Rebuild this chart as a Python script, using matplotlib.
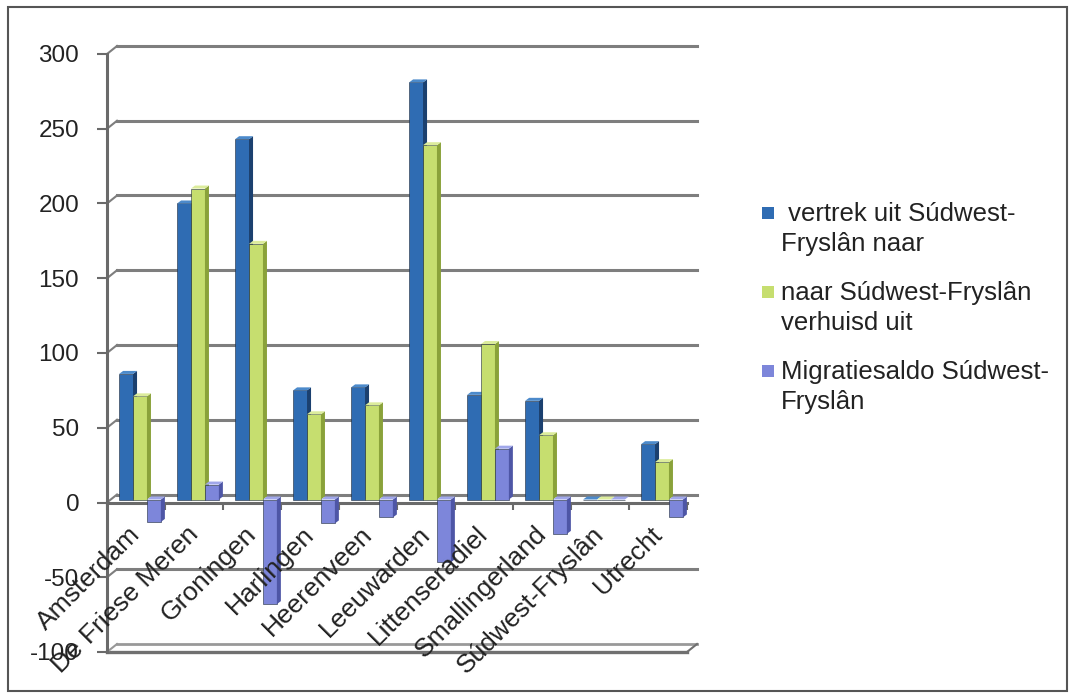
import numpy as np
import matplotlib
matplotlib.use("Agg")
import matplotlib.pyplot as plt
from matplotlib.patches import Polygon, Rectangle

plt.rcParams['font.family'] = ['Liberation Sans', 'DejaVu Sans']

gemeenten = ["Amsterdam", "De Friese Meren", "Groningen", "Harlingen", "Heerenveen",
             "Leeuwarden", "Littenseradiel", "Smallingerland", "Súdwest-Fryslân", "Utrecht"]
vertrek = [84, 198, 241, 73, 75, 279, 70, 66, 0, 37]
aankomst = [69, 208, 171, 57, 63, 237, 104, 43, 0, 25]
saldo = [-15, 10, -70, -16, -12, -42, 34, -23, 0, -12]

reeksen = [" vertrek uit Súdwest-\nFryslân naar",
           "naar Súdwest-Fryslân\nverhuisd uit",
           "Migratiesaldo Súdwest-\nFryslân"]
yticks = [-100, -50, 0, 50, 100, 150, 200, 250, 300]

# front / side / top colours per series
kleuren = [("#2f6cb3", "#1b406f", "#4c8acb"),
           ("#c6de6f", "#8aa23a", "#dcec9c"),
           ("#7d86da", "#4e56a6", "#a0a7ea")]

W, H = 1069, 693
fig = plt.figure(figsize=(W / 100, H / 100), dpi=100)
ax = fig.add_axes([107 / W, 41 / H, 580 / W, 598 / H])
ax.set_xlim(-0.5, len(gemeenten) - 0.5)
ax.set_ylim(-100, 300)

# pixels per data unit, used for the pseudo 3d depth
p0 = ax.transData.transform((0, 0))
p1 = ax.transData.transform((1, 1))
sx, sy = p1[0] - p0[0], p1[1] - p0[1]
wx, wy = 10 / sx, 8 / sy      # depth of the walls
mx, my = 4 / sx, 3 / sy       # bars sit halfway
bx, by = 4 / sx, 3 / sy       # depth of a bar

grid_c = "#7e7e7e"
x0, x1 = ax.get_xlim()
for y in yticks:
    if y == -100:
        continue
    ax.plot([x0 + wx, x1 + wx], [y + wy, y + wy], color=grid_c, lw=2.2, zorder=1, clip_on=False)
    ax.plot([x0, x0 + wx], [y, y + wy], color=grid_c, lw=1.5, zorder=1, clip_on=False)

# floor
ax.plot([x0, x1], [-100, -100], color="#707070", lw=2.4, zorder=1, clip_on=False)
ax.plot([x0 + wx, x1 + wx], [-100 + wy, -100 + wy], color="#999999", lw=2, zorder=1, clip_on=False)
ax.plot([x0, x0 + wx], [-100, -100 + wy], color="#999999", lw=1.5, zorder=1, clip_on=False)
ax.plot([x1, x1 + wx], [-100, -100 + wy], color="#707070", lw=1.5, zorder=1, clip_on=False)

bw = 0.24
x = np.arange(len(gemeenten))
for i in range(len(gemeenten)):
    for k, serie in enumerate([vertrek, aankomst, saldo]):
        v = serie[i]
        front, side, top = kleuren[k]
        xl = x[i] + (k - 1) * bw - bw / 2 + mx
        xr = xl + bw
        z = 3 + i * 0.1 + k * 0.01
        ax.bar(xl, v, width=bw, bottom=my, align='edge', color=front,
               edgecolor="#1e2a3a", linewidth=0.4, zorder=z)
        lo, hi = min(0, v) + my, max(0, v) + my
        ax.add_patch(Polygon([(xr, lo), (xr + bx, lo + by), (xr + bx, hi + by), (xr, hi)],
                             closed=True, facecolor=side, edgecolor="none", zorder=z))
        ax.add_patch(Polygon([(xl, hi), (xl + bx, hi + by), (xr + bx, hi + by), (xr, hi)],
                             closed=True, facecolor=top, edgecolor="none", zorder=z))

for s in ["top", "right"]:
    ax.spines[s].set_visible(False)
ax.spines["left"].set_color("#6a6a6a")
ax.spines["left"].set_linewidth(2.2)
ax.spines["bottom"].set_position(("data", 0))
ax.spines["bottom"].set_color("#6a6a6a")
ax.spines["bottom"].set_linewidth(2.2)
ax.spines["bottom"].set_zorder(2)

ax.set_yticks(yticks)
ax.set_yticklabels([str(t) for t in yticks], fontsize=17.5, color="#222222")
ax.tick_params(axis="y", length=7, width=1.5, color="#6a6a6a", pad=13)
ax.set_xticks(np.arange(len(gemeenten) + 1) - 0.5)
ax.set_xticklabels([])
ax.tick_params(axis="x", length=5, width=1.5, color="#6a6a6a", direction="out")

for i, naam in enumerate(gemeenten):
    ax.text(x[i] - 0.14, -13, naam, rotation=45, ha="right", va="top",
            rotation_mode="anchor", fontsize=19, color="#222222", zorder=10)

# legend
ly = [213, 292, 371]
for k in range(3):
    fig.add_artist(Rectangle((762 / W, 1 - (ly[k] + 6) / H), 12 / W, 12 / H,
                             facecolor=kleuren[k][0], edgecolor="none",
                             transform=fig.transFigure))
    fig.text(781 / W, 1 - (ly[k] - 11) / H, reeksen[k], fontsize=18.5, color="#222222",
             va="top", ha="left", linespacing=1.3)

# chart border
fig.add_artist(Rectangle((8 / W, 2 / H), 1059 / W, 684 / H, fill=False,
                         edgecolor="#555555", lw=1.5, transform=fig.transFigure))

fig.savefig("out.png", dpi=100, facecolor="white")
